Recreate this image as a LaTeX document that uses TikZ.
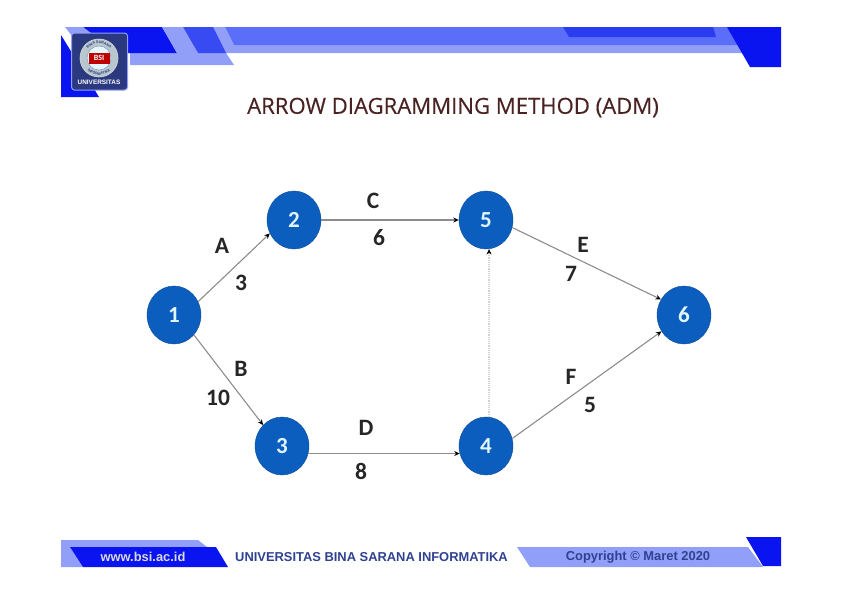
\documentclass[tikz,border=0pt]{standalone}
\usepackage{fontspec}
\setmainfont{Carlito}
\newfontfamily\arialf{Liberation Sans}
\newfontfamily\titlef[FakeBold=0.35]{Open Sans}
\usetikzlibrary{shapes.geometric,arrows.meta,decorations.text}
\definecolor{bluedark}{HTML}{0A14F0}
\definecolor{bluemid}{HTML}{5A6EFA}
\definecolor{bluelight}{HTML}{919FF8}
\definecolor{blueroyal}{HTML}{2A3CF0}
\definecolor{nodeblue}{HTML}{0B5DBE}
\definecolor{navy}{HTML}{2B3A80}
\definecolor{titlec}{HTML}{4A2222}
\definecolor{footc}{HTML}{2F4290}
\tikzset{
  x=1pt,y=-1pt,
  evnode/.style={ellipse,minimum width=54pt,minimum height=58pt,inner sep=0pt,fill=nodeblue,draw=nodeblue!80!black,line width=.4pt,text=cyan!12,font=\fontsize{23}{23}\selectfont\bfseries},
  lab/.style={inner sep=0pt,text=black!85,font=\fontsize{23.5}{24}\selectfont\bfseries},
  act/.style={draw=black!45,line width=1.1pt,-{Stealth[length=5.5pt,width=5pt,color=black]}},
  dummy/.style={draw=black!18,line width=1.2pt,densely dotted,-{Stealth[length=5.5pt,width=5pt,color=black]}},
  foot/.style={inner sep=0pt,font=\arialf\bfseries\fontsize{12.9}{13}\selectfont}
}
\begin{document}
\begin{tikzpicture}
\useasboundingbox (0,0) rectangle (842,595);
% header
\fill[bluelight] (213,27) -- (225,27) -- (234,45) -- (742,45) -- (745,53) -- (226,53) -- (234,65) -- (130,65) -- (130,53) -- (198,53) -- cycle;
\fill[bluemid] (225,27) -- (730,27) -- (742,45) -- (234,45) -- cycle;
\fill[blueroyal] (563,27) -- (713,27) -- (716,37) -- (569,37) -- cycle;
\fill[bluedark] (727,27) -- (781,27) -- (781,67) -- (750,67) -- cycle;
\fill[bluedark] (61,35) -- (99,97) -- (61,97) -- cycle;
\fill[bluedark] (83,27) -- (162,27) -- (177,53) -- (100,53) -- cycle;
\fill[bluelight] (162,27) -- (183,27) -- (198,53) -- (177,53) -- cycle;
\fill[blueroyal!70!bluemid] (183,27) -- (213,27) -- (226,53) -- (198,53) -- cycle;
\fill[bluelight] (65,27) -- (83,27) -- (95,36) -- (72,36) -- cycle;
% logo
\node (logo) [draw=bluelight,line width=1pt,fill=navy,rounded corners=3pt,minimum width=56pt,minimum height=57pt,inner sep=0pt] at (99.5,61.5) {};
\node (seal) [circle,minimum size=38pt,fill=cyan!20!gray!55,draw=white!70!gray,line width=.6pt,inner sep=0pt] at (99,58) {};
\node (sealin) [circle,minimum size=24pt,fill=cyan!10,draw=navy!60,line width=.4pt,inner sep=0pt] at (99,58) {};
\node (sealred) [rectangle,minimum width=21pt,minimum height=11pt,fill=red!75!black,inner sep=0pt,text=white,font=\bfseries\fontsize{8}{8}\selectfont] at (99,58) {BSI};
\path[decorate,decoration={text along path,text align=center,text={|\arialf\bfseries\fontsize{3.6}{4}\selectfont\color{navy}|BINA SARANA}}] (84.5,58) arc[start angle=180,end angle=360,radius=14.5];
\path[decorate,decoration={text along path,text align=center,text={|\arialf\bfseries\fontsize{3.6}{4}\selectfont\color{navy}|INFORMATIKA}}] (82,58) arc[start angle=180,end angle=0,radius=17];
\node (logotxt) [inner sep=0pt,text=white,font=\arialf\bfseries\fontsize{6.4}{7}\selectfont] at (99,82) {UNIVERSITAS};
% title
\node (title) [inner sep=0pt,text=titlec,font=\titlef\fontsize{22.1}{24}\selectfont] at (453,107.5) {ARROW DIAGRAMMING METHOD (ADM)};
% events
\node (n1) [evnode] at (174,315) {1};
\node (n2) [evnode] at (294,220) {2};
\node (n3) [evnode] at (282,446) {3};
\node (n4) [evnode] at (486,446) {4};
\node (n5) [evnode] at (486,220) {5};
\node (n6) [evnode] at (684,315) {6};
% arrows
\draw[act] (n1.29) -- (n2.209);
\draw[act] (n1.-45) -- (n3.132);
\draw[act] (n2.east) -- (n5.west);
\draw[act] (n3.-16) -- (n4.196);
\draw[act] (n5.-16) -- (n6.146);
\draw[act] (n4.16) -- (n6.216);
\draw[dummy] (n4.84) -- (n5.-84);
% labels
\node (la) [lab] at (222,246) {A};
\node (l3) [lab] at (241,283) {3};
\node (lb) [lab] at (241,369) {B};
\node (l10) [lab] at (218,398) {10};
\node (lc) [lab] at (373,201) {C};
\node (l6) [lab] at (379,238) {6};
\node (ld) [lab] at (366,428) {D};
\node (l8) [lab] at (361,471) {8};
\node (le) [lab] at (583,245) {E};
\node (l7) [lab] at (571,274) {7};
\node (lf) [lab] at (571,377) {F};
\node (l5) [lab] at (590,405) {5};
% footer
\fill[bluelight] (61,540) -- (198,540) -- (207,547) -- (70,547) -- (83,567) -- (61,567) -- cycle;
\fill[bluedark] (70,547) -- (216,547) -- (228,567) -- (83,567) -- cycle;
\fill[bluelight] (517,547) -- (748,547) -- (763,567) -- (530,567) -- cycle;
\fill[bluedark] (746,537) -- (781,537) -- (781,566) -- (763,566) -- cycle;
\node (fa) [foot,text=black!15] at (143,557) {www.bsi.ac.id};
\node (fb) [foot,text=footc] at (371.5,557) {UNIVERSITAS BINA SARANA INFORMATIKA};
\node (fc) [foot,text=footc] at (638,557.5) {Copyright © Maret 2020};
\end{tikzpicture}
\end{document}
